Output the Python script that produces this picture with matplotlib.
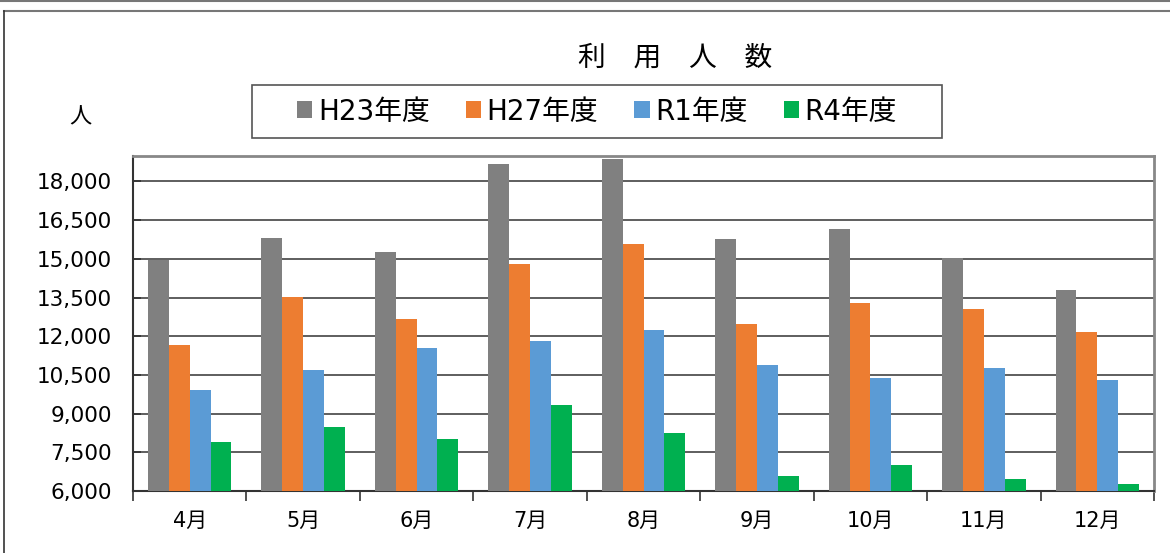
import matplotlib.pyplot as plt
import numpy as np
from matplotlib.lines import Line2D
from matplotlib.patches import Rectangle

plt.rcParams['font.family'] = ['Noto Sans CJK JP', 'DejaVu Sans']
mixed = ['DejaVu Sans', 'Noto Sans CJK JP']  # wide digits, kanji from Noto

# monthly users per fiscal year
months = ['4月', '5月', '6月', '7月', '8月', '9月', '10月', '11月', '12月']
h23 = [14950, 15820, 15280, 18670, 18860, 15780, 16150, 15030, 13800]
h27 = [11660, 13540, 12650, 14810, 15590, 12480, 13270, 13050, 12150]
r1 = [9920, 10700, 11550, 11820, 12260, 10900, 10390, 10780, 10310]
r4 = [7900, 8480, 8000, 9330, 8250, 6600, 7010, 6450, 6260]
series_names = ['H23年度', 'H27年度', 'R1年度', 'R4年度']
colors = ['#808080', '#ED7D31', '#5B9BD5', '#00B050']
yticks = [6000, 7500, 9000, 10500, 12000, 13500, 15000, 16500, 18000]

W, H = 1170, 553
fig = plt.figure(figsize=(W / 100, H / 100), dpi=100)
ax = fig.add_axes([133 / W, 1 - 491 / H, (1154 - 133) / W, (491 - 155.7) / H])

x = np.arange(len(months))
bw = 0.184
for k, (vals, name, c) in enumerate(zip([h23, h27, r1, r4], series_names, colors)):
    ax.bar(x + (k - 1.5) * bw, np.array(vals) - 6000, bw, bottom=6000,
           color=c, label=name, zorder=3)

ax.set_xlim(-0.5, len(months) - 0.5)
ax.set_ylim(6000, 19000)
ax.set_yticks(yticks)
ax.set_yticklabels([f'{v:,}' for v in yticks], fontsize=15.5, family=mixed)
ax.yaxis.grid(True, color='#333333', linewidth=1.1, zorder=0)
ax.tick_params(axis='y', direction='in', length=6, width=1.2, color='#333333', pad=15)

# month labels centred, ticks between categories
ax.set_xticks(x)
ax.set_xticklabels(months, fontsize=15, family=mixed)
ax.tick_params(axis='x', length=0, pad=14)
ax.set_xticks(np.arange(len(months) + 1) - 0.5, minor=True)
ax.tick_params(axis='x', which='minor', direction='out', length=7, width=1.2, color='#333333')

for side in ['top', 'right']:
    ax.spines[side].set_color('#888888')
    ax.spines[side].set_linewidth(2)
for side in ['left', 'bottom']:
    ax.spines[side].set_color('#333333')
    ax.spines[side].set_linewidth(1.5)

fig.text(675 / W, 1 - 58 / H, '利　用　人　数', ha='center', va='center', fontsize=20)
fig.text(80 / W, 1 - 117 / H, '人', ha='center', va='center', fontsize=16)

# legend without its own frame; the box is drawn separately
handles, labels = ax.get_legend_handles_labels()
leg = fig.legend(handles, labels, ncol=4, loc='center',
                 bbox_to_anchor=(597 / W, 1 - 111.5 / H),
                 prop={'family': mixed, 'size': 20}, frameon=False,
                 handlelength=0.55, handleheight=0.55, handletextpad=0.2,
                 columnspacing=1.3)
fig.add_artist(Rectangle((252 / W, 1 - 138 / H), (942 - 252) / W, 53 / H,
                         transform=fig.transFigure, fill=False,
                         edgecolor='#555555', linewidth=1.2))

# outer frame lines
fig.add_artist(Line2D([0, 1], [1 - 1 / H, 1 - 1 / H], color='#777777', linewidth=1.5))
fig.add_artist(Line2D([3.5 / W, 1], [1 - 11 / H, 1 - 11 / H], color='#777777', linewidth=1.5))
fig.add_artist(Line2D([3.5 / W, 3.5 / W], [0, 1 - 11 / H], color='#333333', linewidth=1.2))

fig.savefig('out.png', dpi=100)
